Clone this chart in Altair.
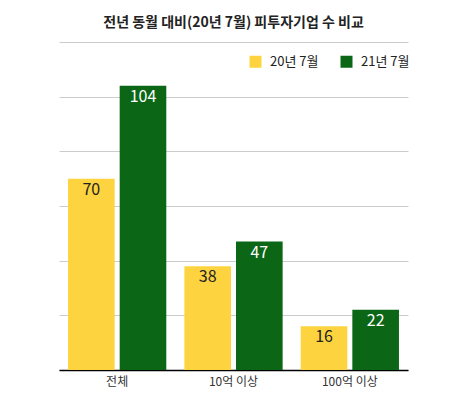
import altair as alt
import pandas as pd

categories = ["전체", "10억 이상", "100억 이상"]
series_names = ["20년 7월", "21년 7월"]
values_20 = [70, 38, 16]
values_21 = [104, 47, 22]
colors = ["#FDD440", "#0B6616"]
text_colors = ["#222222", "#FFFFFF"]

rows = []
for c, a, b in zip(categories, values_20, values_21):
    rows.append({"cat": c, "series": series_names[0], "value": a, "tcol": text_colors[0]})
    rows.append({"cat": c, "series": series_names[1], "value": b, "tcol": text_colors[1]})
df = pd.DataFrame(rows)

FONT = "Noto Sans CJK KR"

base = alt.Chart(df).encode(
    x=alt.X("cat:N", sort=categories, title=None,
            scale=alt.Scale(paddingInner=0, paddingOuter=0),
            axis=alt.Axis(labelAngle=0, ticks=False, domainColor="#000000", domainWidth=1.5,
                          labelFont=FONT, labelFontSize=12, labelColor="#333333", labelPadding=6,
                          grid=False)),
    xOffset=alt.XOffset("series:N", sort=series_names,
                        scale=alt.Scale(paddingInner=0.097, paddingOuter=0.175)),
    y=alt.Y("value:Q", title=None, scale=alt.Scale(domain=[0, 120], nice=False),
            axis=alt.Axis(values=[0, 20, 40, 60, 80, 100, 120], labels=False, ticks=False,
                          domain=False, gridColor="#CCCCCC", gridWidth=1)),
)

bars = base.mark_bar().encode(
    color=alt.Color("series:N", sort=series_names,
                    scale=alt.Scale(domain=series_names, range=colors),
                    legend=alt.Legend(title=None, orient="none", direction="horizontal",
                                      legendX=190, legendY=13, symbolType="square",
                                      symbolSize=144, symbolStrokeWidth=0,
                                      labelFont=FONT, labelFontSize=13, labelColor="#222222",
                                      columnPadding=21, labelOffset=8))
)

labels = base.mark_text(baseline="top", dy=3, fontSize=16, font=FONT).encode(
    text=alt.Text("value:Q"),
    color=alt.Color("tcol:N", scale=None, legend=None),
)

chart = alt.layer(bars, labels).properties(
    width=349,
    height=328,
    view=alt.ViewBackground(stroke="transparent", strokeWidth=0),
    title=alt.TitleParams("전년 동월 대비(20년 7월) 피투자기업 수 비교", font=FONT, fontSize=14,
                          fontWeight="bold", color="#222222", offset=12, anchor="middle"),
    autosize=alt.AutoSizeParams(type="none"),
    padding={"left": 51, "top": 34, "right": 10, "bottom": 20},
).configure_view(strokeWidth=0, stroke="transparent").configure_axisX(grid=False).configure(background="#FFFFFF")

chart.save("out.html", embed_options={"renderer": "svg", "actions": False})
